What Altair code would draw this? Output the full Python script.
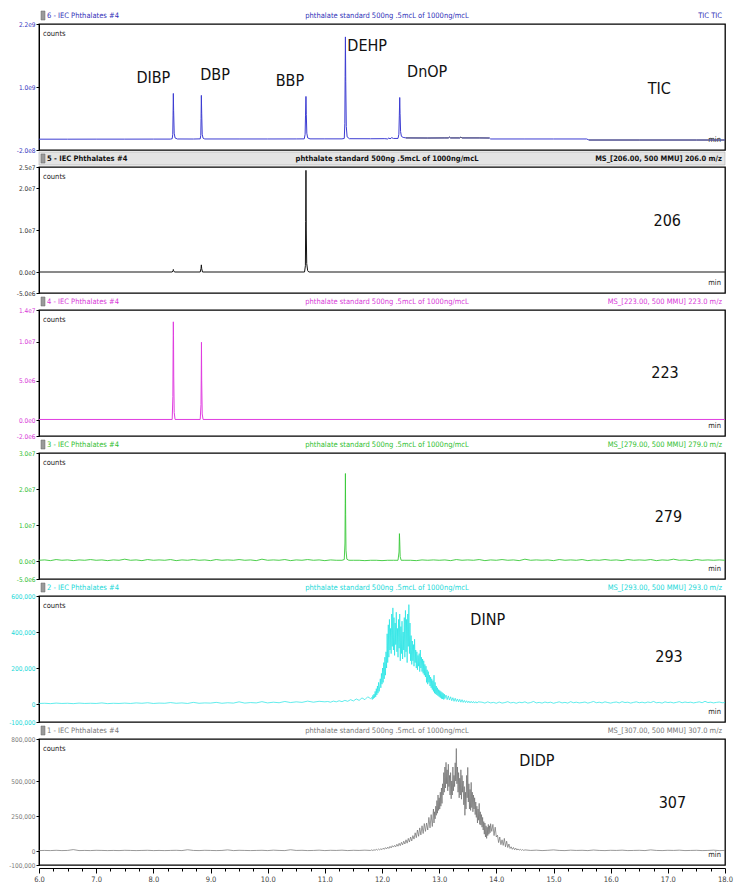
import altair as alt
import pandas as pd

FONT = "Liberation Sans Narrow, Arial Narrow, DejaVu Sans Condensed, Liberation Sans, Arial, sans-serif"
W, H = 686, 126

# ---------------- panel meta ----------------
trace_ids = ["6", "5", "4", "3", "2", "1"]
sample_name = "IEC Phthalates #4"
center_title = "phthalate standard 500ng .5mcL of 1000ng/mcL"
right_titles = ["TIC TIC",
                "MS_[206.00, 500 MMU] 206.0 m/z",
                "MS_[223.00, 500 MMU] 223.0 m/z",
                "MS_[279.00, 500 MMU] 279.0 m/z",
                "MS_[293.00, 500 MMU] 293.0 m/z",
                "MS_[307.00, 500 MMU] 307.0 m/z"]
line_colors = ["#3c3cd2", "#141414", "#e03ce0", "#38c838", "#1ee4e4", "#6e6e6e"]
label_colors = ["#3434c0", "#333333", "#d838d8", "#30c030", "#20d8d8", "#7a7a7a"]
header_colors = ["#3030b8", "#111111", "#d838d8", "#30c030", "#20d8d8", "#777777"]
header_fill = ["#ffffff", "#e4e4e4", "#ffffff", "#ffffff", "#ffffff", "#ffffff"]
header_weight = ["normal", "bold", "normal", "normal", "normal", "normal"]
line_widths = [1.0, 1.0, 1.0, 0.9, 0.7, 0.7]

y_domains = [[-2.0e8, 2.2e9], [-5.0e6, 2.5e7], [-2.0e6, 1.4e7],
             [-5.0e6, 3.0e7], [-1.0e5, 6.0e5], [-1.0e5, 8.0e5]]
y_ticks = [[2.2e9, 1.0e9, -2.0e8],
           [2.5e7, 2.0e7, 1.0e7, 0.0, -5.0e6],
           [1.4e7, 1.0e7, 5.0e6, 0.0, -2.0e6],
           [3.0e7, 2.0e7, 1.0e7, 0.0, -5.0e6],
           [6.0e5, 4.0e5, 2.0e5, 0.0, -1.0e5],
           [8.0e5, 5.0e5, 2.5e5, 0.0, -1.0e5]]
y_formats = ["e", "e", "e", "e", "c", "c"]

peak_labels = [
    [("DIBP", 8.00, 1.17e9), ("DBP", 9.08, 1.22e9), ("BBP", 10.39, 1.12e9),
     ("DEHP", 11.74, 1.78e9), ("DnOP", 12.79, 1.28e9), ("TIC", 16.85, 0.965e9)],
    [("206", 16.99, 1.207e7)],
    [("223", 16.95, 0.60e7)],
    [("279", 17.01, 1.22e7)],
    [("DINP", 13.85, 4.65e5), ("293", 17.02, 2.62e5)],
    [("DIDP", 14.71, 6.40e5), ("307", 17.08, 3.42e5)],
]

# ---------------- trace data ----------------
# TIC (counts, x1e9)
tic_points = [
    (6.00, 0.006), (6.50, 0.006), (7.00, 0.007), (7.50, 0.007), (8.00, 0.008),
    (8.30, 0.008), (8.330, 0.015), (8.340, 0.10), (8.345, 0.45), (8.350, 0.877),
    (8.355, 0.55), (8.365, 0.12), (8.380, 0.03), (8.420, 0.010), (8.700, 0.009),
    (8.820, 0.012), (8.830, 0.08), (8.835, 0.40), (8.840, 0.84), (8.846, 0.50),
    (8.855, 0.10), (8.870, 0.025), (8.900, 0.010), (9.50, 0.010), (10.00, 0.010),
    (10.50, 0.011), (10.640, 0.012), (10.655, 0.10), (10.662, 0.45), (10.670, 0.82),
    (10.676, 0.48), (10.685, 0.12), (10.700, 0.03), (10.740, 0.012), (11.00, 0.012),
    (11.30, 0.012), (11.340, 0.02), (11.350, 0.30), (11.355, 1.20), (11.360, 1.954),
    (11.366, 1.10), (11.375, 0.25), (11.390, 0.05), (11.430, 0.015), (11.80, 0.014),
    (12.05, 0.016), (12.10, 0.010), (12.12, 0.030), (12.14, 0.012), (12.17, 0.035),
    (12.20, 0.020), (12.28, 0.020), (12.295, 0.10), (12.303, 0.45), (12.310, 0.80),
    (12.316, 0.50), (12.325, 0.15), (12.34, 0.06), (12.37, 0.04), (12.42, 0.030),
    (12.80, 0.028), (13.10, 0.030), (13.16, 0.030), (13.18, 0.045), (13.20, 0.030),
    (13.36, 0.030), (13.38, 0.045), (13.40, 0.030), (13.70, 0.030), (13.88, 0.028),
    (13.90, 0.010), (14.50, 0.010), (15.00, 0.010), (15.58, 0.010), (15.62, -0.010),
    (16.50, -0.010), (17.50, -0.010), (18.00, -0.010),
]
tic_gray_ranges = [(12.42, 13.88), (15.62, 18.0)]

# m/z 206 (x1e7)
mz206_points = [
    (6.0, 0.0), (8.33, 0.0), (8.345, 0.03), (8.35, 0.06), (8.355, 0.03), (8.37, 0.0),
    (8.82, 0.0), (8.834, 0.08), (8.84, 0.17), (8.846, 0.08), (8.86, 0.0),
    (10.645, 0.0), (10.66, 0.15), (10.665, 1.2), (10.670, 2.42), (10.675, 1.0),
    (10.683, 0.2), (10.70, 0.03), (10.72, 0.0), (18.0, 0.0),
]

# m/z 223 (x1e7)
mz223_points = [
    (6.0, 0.01), (8.33, 0.01), (8.342, 0.3), (8.346, 0.9), (8.350, 1.25), (8.353, 1.08),
    (8.357, 0.55), (8.365, 0.1), (8.38, 0.01), (8.82, 0.01), (8.834, 0.2), (8.838, 0.55),
    (8.842, 0.99), (8.846, 0.5), (8.855, 0.08), (8.87, 0.01), (18.0, 0.01),
]

# m/z 279 (x1e7): baseline segments (start, step, values) + peaks
mz279_base1 = (6.0, 0.1, [0.02, 0.03, 0.01, 0.04, 0.02, 0.03, 0.01, 0.03, 0.02, 0.04,
                          0.02, 0.03, 0.01, 0.03, 0.02, 0.05, 0.02, 0.03, 0.01, 0.04,
                          0.02, 0.03, 0.02, 0.04, 0.01, 0.03, 0.02, 0.04, 0.02, 0.03,
                          0.01, 0.04, 0.02, 0.03, 0.02, 0.04, 0.02, 0.03, 0.01, 0.05,
                          0.02, 0.03, 0.02, 0.04, 0.01, 0.03, 0.02, 0.04, 0.02, 0.03,
                          0.01, 0.03, 0.02])
mz279_peak1 = [(11.30, 0.02), (11.34, 0.04), (11.352, 0.5), (11.357, 1.6), (11.36, 2.43),
               (11.364, 1.3), (11.37, 0.3), (11.385, 0.05), (11.42, 0.02)]
mz279_base2 = (11.5, 0.1, [0.02, 0.02, 0.01, 0.02, 0.02, 0.01, 0.02, 0.02])
mz279_peak2 = [(12.28, 0.02), (12.298, 0.25), (12.305, 0.76), (12.31, 0.55),
               (12.318, 0.12), (12.335, 0.02)]
mz279_base3 = (12.4, 0.1, [0.02, 0.02, 0.01, 0.03, 0.02, 0.03, 0.02, 0.03, 0.01, 0.04,
                           0.02, 0.03, 0.02, 0.04, 0.01, 0.03, 0.02, 0.04, 0.02, 0.03,
                           0.01, 0.05, 0.02, 0.03, 0.02, 0.03, 0.01, 0.04, 0.02, 0.03,
                           0.02, 0.04, 0.01, 0.03, 0.02, 0.04, 0.02, 0.03, 0.01, 0.04,
                           0.02, 0.03, 0.02, 0.04, 0.01, 0.03, 0.02, 0.05, 0.02, 0.03,
                           0.01, 0.04, 0.02, 0.03, 0.02, 0.03, 0.02])

# m/z 293 (x1e3)
mz293_segs = [
    (6.0, 0.1, [3, 4, 2, 5, 3, 4, 2, 5, 3, 4, 3, 6, 2, 4, 3, 5, 3, 6, 4, 7,
                3, 5, 4, 8, 4, 6, 3, 9, 4, 6, 5, 9, 4, 7, 5, 12, 5, 8, 6, 13,
                6, 10, 7, 14, 8, 12, 9, 16, 10, 15, 12]),
    (11.05, 0.05, [14, 10, 16, 12, 18, 13, 20, 15, 24, 17, 28, 20, 34, 24, 40, 30]),
    (11.82, 0.01, [36, 25, 48, 30, 55, 35, 70, 40, 85, 50, 100, 60, 120, 70, 95, 140,
                   90, 170, 110, 200, 120, 230, 140, 260, 160, 290,
                   200, 390, 230, 440, 260, 470, 300, 420, 280, 500,
                   320, 534, 300, 480, 270, 450, 330, 510, 290, 420,
                   260, 470, 310, 500, 240, 430, 280, 460, 250, 400,
                   300, 480, 260, 520, 290, 470, 230, 500, 320, 552,
                   280, 450, 240, 380, 220, 350, 240, 330, 210, 360,
                   230, 300, 200, 290, 190, 270, 210, 280, 180, 300,
                   200, 260, 180, 250, 170, 240, 160, 220, 150, 210,
                   120, 190, 110, 180, 120, 160, 100, 150, 90, 140,
                   80, 130, 70, 160, 60, 120, 55, 100, 50, 90,
                   45, 80, 40, 75, 35, 70, 30, 65, 28, 60, 25, 55]),
    (13.10, 0.02, [30, 50, 24, 45, 22, 40, 18, 35, 15, 32, 14, 28, 12, 26, 10, 24,
                   9, 20, 8, 18, 7, 16, 6, 15, 6, 14, 5, 13, 5, 12]),
    (13.75, 0.05, [10, 5, 12, 6, 9, 4, 11, 5, 8, 13, 6, 9, 4, 10, 7, 12, 5, 8, 14, 6,
                   9, 5, 11, 7, 10, 4, 8, 12, 6, 9, 5, 13, 7, 10, 6, 8, 11, 5, 9, 14,
                   7, 10, 6, 12, 8, 5, 9, 11, 6, 13, 8, 10, 5, 9, 12, 7, 10, 6, 11, 8,
                   14, 7, 9, 5, 12, 8, 10, 6, 9, 13, 7, 11, 8, 10, 6, 9, 12, 7, 15, 8,
                   10, 6, 9, 11, 7, 8]),
]

# m/z 307 (x1e3)
mz307_segs = [
    (6.0, 0.1, [3, 4, 3, 5, 3, 4, 10, 3, 4, 3, 5, 4, 3, 4, 3, 5, 4, 3, 4, 5,
                3, 4, 3, 4, 5, 3, 9, 4, 3, 5, 4, 3, 4, 8, 3, 5, 4, 3, 4, 5,
                3, 6, 4, 3, 9, 4, 5, 3, 4, 6, 3, 5, 4, 6, 3, 5, 4, 6]),
    (11.80, 0.02, [4, 8, 3, 9, 5, 12, 6, 14, 8, 16, 10, 20, 12, 24, 15, 28, 18, 33, 22, 38,
                   28, 40, 30, 48, 34, 55, 38, 62, 44, 70, 50, 80, 56, 90, 64, 100, 72, 110,
                   85, 130, 95, 150, 105, 165, 115, 180, 125, 196, 140, 200, 150, 240, 165, 260, 175]),
    (12.90, 0.01, [300, 200, 280, 230, 320, 255, 360, 270, 400, 290,
                   380, 300, 420, 320, 450, 340, 480, 400, 560, 420,
                   600, 450, 633, 480, 580, 430, 620, 460, 540, 400,
                   560, 373, 500, 400, 600, 430, 540, 460, 630, 500,
                   732, 480, 600, 420, 560, 380, 520, 400, 580, 370,
                   540, 420, 500, 330, 460, 255, 420, 300, 540, 380,
                   597, 350, 480, 300, 440, 290, 490, 310, 420, 280,
                   400, 300, 380, 260, 350, 240, 320, 200, 300, 220,
                   340, 190, 280, 185, 260, 170, 240, 150, 210, 120,
                   200, 100, 180, 90, 170, 110, 190, 120, 180, 130, 195]),
    (13.92, 0.02, [140, 190, 110, 170, 100, 113, 60, 100, 45, 80, 40, 90, 30, 70, 25,
                   50, 18, 30, 12, 25, 9, 20, 7, 15, 6, 12, 5, 10, 4, 8]),
    (14.6, 0.1, [4, 6, 3, 5, 8, 4, 3, 6, 4, 5, 3, 7, 4, 3, 5, 4, 6, 3, 4, 5,
                 3, 8, 4, 3, 5, 4, 6, 3, 4, 5, 3, 4, 6, 3, 4]),
]


def expand(seg, unit):
    t0, step, vals = seg
    return [(round(t0 + k * step, 4), v * unit) for k, v in enumerate(vals)]


def frame(points, unit):
    return pd.DataFrame({"t": [p[0] for p in points], "v": [p[1] * unit for p in points]})


traces = [
    frame(tic_points, 1e9),
    frame(mz206_points, 1e7),
    frame(mz223_points, 1e7),
    pd.DataFrame(expand(mz279_base1, 1e7) + [(t, v * 1e7) for t, v in mz279_peak1]
                 + expand(mz279_base2, 1e7) + [(t, v * 1e7) for t, v in mz279_peak2]
                 + expand(mz279_base3, 1e7), columns=["t", "v"]),
    pd.DataFrame(sum([expand(s, 1e3) for s in mz293_segs], []), columns=["t", "v"]),
    pd.DataFrame(sum([expand(s, 1e3) for s in mz307_segs], []), columns=["t", "v"]),
]

tic_df = traces[0]
gray_parts = []
for k, (a, b) in enumerate(tic_gray_ranges):
    part = tic_df[(tic_df.t >= a) & (tic_df.t <= b)].copy()
    part["seg"] = k
    gray_parts.append(part)
tic_gray_df = pd.concat(gray_parts)

x_ticks = [6.0 + 0.25 * k for k in range(49)]

E_EXPR = "replace(replace(format(datum.value, '.1e'), '+', ''), '\u2212', '-')"
C_EXPR = "replace(format(datum.value, ','), '\u2212', '-')"

ONE = alt.Data(values=[{"a": 1}])


def header_text(txt, x, align, color, weight):
    return alt.Chart(ONE).mark_text(text=txt, align=align, baseline="middle", font=FONT,
                                    fontSize=7.5, color=color, fontWeight=weight).encode(
        x=alt.value(x), y=alt.value(-8))


def make_panel(i):
    color = line_colors[i]
    show_x = i == 5
    yaxis = alt.Axis(values=y_ticks[i], labelExpr=E_EXPR if y_formats[i] == "e" else C_EXPR,
                     labelColor=label_colors[i], labelFont=FONT, labelFontSize=6.5,
                     tickSize=3, tickColor="black", domainColor="black", grid=False,
                     labelPadding=1, labelOverlap=False, labelFlush=False)
    xs = alt.Scale(domain=[6, 18], nice=False, zero=False)
    ys = alt.Scale(domain=y_domains[i], nice=False, zero=False)

    def xenc():
        if show_x:
            ax = alt.Axis(values=x_ticks,
                          labelExpr="datum.value % 1 == 0 ? format(datum.value, '.1f') : ''",
                          tickSize={"condition": {"test": "datum.value % 1 == 0", "value": 5}, "value": 3},
                          offset=3, labelFont=FONT, labelFontSize=7.5, labelColor="#444444",
                          domainColor="black", tickColor="black", grid=False,
                          labelPadding=2, labelFlush=False, labelOverlap=False)
            return alt.X("t:Q", scale=xs, axis=ax, title=None)
        return alt.X("t:Q", scale=xs, axis=None, title=None)

    def yenc():
        return alt.Y("v:Q", scale=ys, axis=yaxis, title=None)

    line = alt.Chart(traces[i]).mark_line(color=color, strokeWidth=line_widths[i], clip=True).encode(
        x=xenc(), y=yenc(), order="t:Q")
    layers = []
    band = alt.Chart(ONE).mark_rect(fill=header_fill[i], stroke="#b0b0b0" if i == 1 else "#ffffff",
                                    strokeWidth=0.6).encode(
        x=alt.value(0), x2=alt.value(W), y=alt.value(-15), y2=alt.value(-2))
    icon = alt.Chart(ONE).mark_rect(fill="#9a9a9a", stroke="#666666", strokeWidth=0.5).encode(
        x=alt.value(2), x2=alt.value(6), y=alt.value(-13), y2=alt.value(-4))
    layers += [band, icon,
               header_text(f"{trace_ids[i]} - {sample_name}", 8, "left", header_colors[i], header_weight[i]),
               header_text(center_title, 348, "center", header_colors[i], header_weight[i]),
               header_text(right_titles[i], W - 3, "right", header_colors[i], header_weight[i])]
    counts = alt.Chart(ONE).mark_text(text="counts", align="left", baseline="middle", font=FONT,
                                      fontSize=7.5, color="#222222").encode(
        x=alt.value(4), y=alt.value(10))
    mins = alt.Chart(ONE).mark_text(text="min", align="right", baseline="middle", font=FONT,
                                    fontSize=7.5, color="#222222").encode(
        x=alt.value(W - 4), y=alt.value(H - 10))
    layers += [counts, mins, line]
    if i == 0:
        gray = alt.Chart(tic_gray_df).mark_line(color="#5a5a6e", strokeWidth=1.0, clip=True).encode(
            x=xenc(), y=yenc(), detail="seg:N", order="t:Q")
        layers.append(gray)
    lab = pd.DataFrame(peak_labels[i], columns=["label", "t", "v"])
    labels = alt.Chart(lab).mark_text(font=FONT, fontSize=16, color="#111111",
                                      baseline="middle", align="center").encode(
        x=xenc(), y=yenc(), text="label:N")
    layers.append(labels)
    return alt.layer(*layers).properties(width=W, height=H)


chart = alt.vconcat(*[make_panel(i) for i in range(6)], spacing=17, bounds="flush").properties(
    padding={"left": 0, "top": 0, "right": 0, "bottom": 0},
    background="white",
).configure_view(stroke="black", strokeWidth=1.3).configure_axisY(labelOverlap=False)

chart.save("out.html", embed_options={"renderer": "svg", "actions": False})
